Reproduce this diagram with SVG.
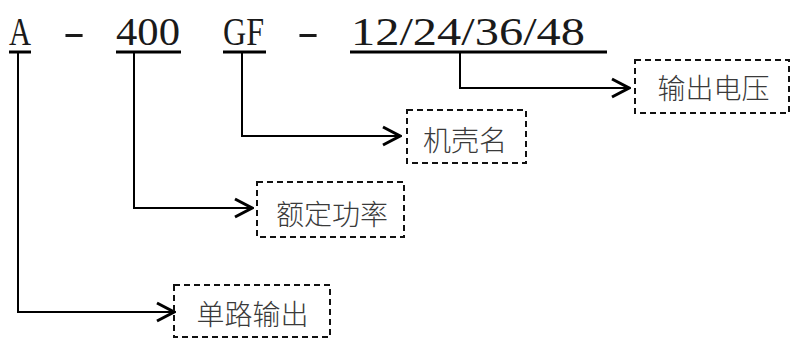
<svg xmlns="http://www.w3.org/2000/svg" width="792" height="338" viewBox="0 0 792 338">
<style>
.code{font-family:"Liberation Serif","DejaVu Serif",serif;font-size:40px;fill:#1a1a1a;}
.lbl{font-family:"Noto Sans CJK SC","Noto Sans",sans-serif;font-size:28px;font-weight:300;fill:#3a3a3a;text-anchor:middle;}
.box{fill:none;stroke:#111;stroke-width:2;stroke-dasharray:6 4;}
.ul{stroke:#000;stroke-width:3;}
.conn{fill:none;stroke:#000;stroke-width:2;}
.head{fill:none;stroke:#000;stroke-width:3;}
</style>
<defs>
<marker id="chev" markerUnits="userSpaceOnUse" viewBox="-19 -11 21 22" markerWidth="21" markerHeight="22" refX="0" refY="0" orient="auto">
<polyline class="head" points="-17,-9 0,0 -17,9"/>
</marker>
</defs>
<g id="code">
<text class="code" x="9" y="45" textLength="22" lengthAdjust="spacingAndGlyphs">A</text>
<text class="code" x="63" y="45" textLength="22" lengthAdjust="spacingAndGlyphs">-</text>
<text class="code" x="116" y="45" textLength="64" lengthAdjust="spacingAndGlyphs">400</text>
<text class="code" x="223" y="45" textLength="41" lengthAdjust="spacingAndGlyphs">GF</text>
<text class="code" x="297" y="45" textLength="22" lengthAdjust="spacingAndGlyphs">-</text>
<text class="code" x="351" y="45" textLength="234" lengthAdjust="spacingAndGlyphs">12/24/36/48</text>
<line class="ul" x1="9" y1="52" x2="31" y2="52"/>
<line class="ul" x1="116" y1="52" x2="181" y2="52"/>
<line class="ul" x1="223" y1="52" x2="266" y2="52"/>
<line class="ul" x1="350" y1="52" x2="607" y2="52"/>
</g>
<g id="connectors">
<path class="conn" d="M18,53 V312 H174" marker-end="url(#chev)"/>
<path class="conn" d="M134,53 V208 H252" marker-end="url(#chev)"/>
<path class="conn" d="M242,53 V136 H400" marker-end="url(#chev)"/>
<path class="conn" d="M460,53 V88 H629" marker-end="url(#chev)"/>
</g>
<g id="node-voltage">
<rect class="box" x="635" y="60" width="154" height="53"/>
<text class="lbl" x="713.5" y="99">输出电压</text>
</g>
<g id="node-case">
<rect class="box" x="407" y="110" width="119" height="53"/>
<text class="lbl" x="465" y="151">机壳名</text>
</g>
<g id="node-power">
<rect class="box" x="257" y="182" width="147" height="55"/>
<text class="lbl" x="332" y="225">额定功率</text>
</g>
<g id="node-single">
<rect class="box" x="174" y="285" width="156" height="52"/>
<text class="lbl" x="252.5" y="324.5">单路输出</text>
</g>
</svg>
